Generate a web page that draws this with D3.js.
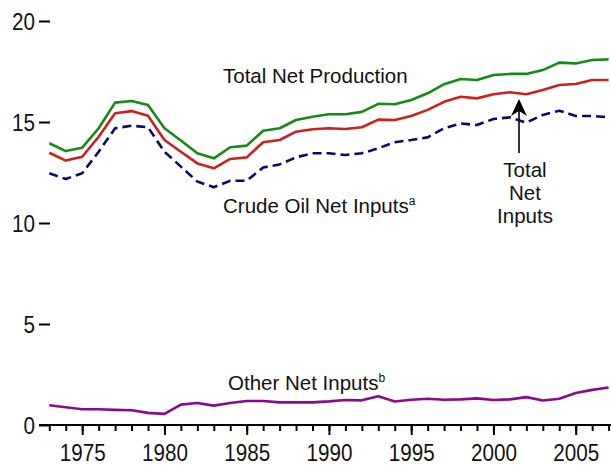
<!DOCTYPE html>
<html>
<head>
<meta charset="utf-8">
<script src="https://cdn.jsdelivr.net/npm/d3@7"></script>
<style>
  body { margin: 0; background: #fff; }
  svg { display: block; font-family: "Liberation Sans", Arial, sans-serif; }
</style>
</head>
<body>
<div class="chart"></div>
<script>
const WIDTH = 611;
const HEIGHT = 468;

var years = d3.range(1973, 2008);
var majorYears = [1975, 1980, 1985, 1990, 1995, 2000, 2005];
var yTicks = [0, 5, 10, 15, 20];

var totalNetProduction = [13.95, 13.56, 13.73, 14.69, 15.96, 16.04, 15.84, 14.69, 14.08, 13.45,
    13.20, 13.75, 13.83, 14.57, 14.69, 15.10, 15.26, 15.38, 15.38, 15.50,
    15.90, 15.88, 16.09, 16.42, 16.87, 17.13, 17.08, 17.33, 17.38, 17.38,
    17.57, 17.94, 17.90, 18.07, 18.10];
var totalNetInputs = [13.48, 13.09, 13.28, 14.27, 15.43, 15.54, 15.31, 14.11, 13.53, 12.95,
    12.71, 13.17, 13.25, 14.00, 14.11, 14.52, 14.64, 14.69, 14.65, 14.74,
    15.12, 15.10, 15.30, 15.60, 16.00, 16.25, 16.17, 16.37, 16.47, 16.37,
    16.58, 16.83, 16.88, 17.08, 17.08];
var crudeOilNetInputs = [12.46, 12.18, 12.46, 13.53, 14.69, 14.82, 14.74, 13.53, 12.79, 12.05,
    11.77, 12.09, 12.09, 12.75, 12.90, 13.25, 13.45, 13.45, 13.37, 13.45,
    13.70, 14.00, 14.11, 14.24, 14.69, 14.93, 14.85, 15.15, 15.23, 14.97,
    15.35, 15.56, 15.30, 15.30, 15.23];
var otherNetInputs = [0.98, 0.88, 0.78, 0.78, 0.75, 0.73, 0.60, 0.55, 1.01, 1.09,
    0.96, 1.09, 1.19, 1.19, 1.12, 1.12, 1.12, 1.17, 1.24, 1.22,
    1.42, 1.16, 1.25, 1.30, 1.25, 1.27, 1.32, 1.24, 1.27, 1.38,
    1.21, 1.30, 1.58, 1.74, 1.86];

var series = [
    { values: totalNetProduction, color: "#168a16", dash: null },
    { values: totalNetInputs, color: "#cc2020", dash: null },
    { values: crudeOilNetInputs, color: "#0a0a66", dash: "9,5" },
    { values: otherNetInputs, color: "#8a0a8a", dash: null }
];

var svg = d3.select('.chart').append('svg')
    .attr('width', WIDTH)
    .attr('height', HEIGHT);

var x = d3.scaleLinear().domain([1973, 2007]).range([49.3, 608.6]);
var y = d3.scaleLinear().domain([0, 20]).range([425, 21]);

// x axis: minor ticks every year, labelled major ticks every 5
var xMinor = svg.append("g")
    .attr("transform", "translate(0,425)")
    .call(d3.axisBottom(x).tickValues(years).tickSize(6).tickFormat(""));
xMinor.select(".domain").remove();
xMinor.selectAll("line").attr("stroke", "#000").attr("stroke-width", 2);

var xAxis = svg.append("g")
    .attr("transform", "translate(0,425)")
    .call(d3.axisBottom(x).tickValues(majorYears).tickSize(10).tickFormat(d3.format("d")));
xAxis.select(".domain").remove();
xAxis.selectAll("line").attr("stroke", "#000").attr("stroke-width", 2);
xAxis.selectAll("text")
    .attr("y", 36.5).attr("dy", 0)
    .attr("transform", "scale(0.86,1)")
    .style("font-size", "24px")
    .attr("fill", "#111");

svg.append("line")
    .attr("x1", 39).attr("x2", WIDTH)
    .attr("y1", 425).attr("y2", 425)
    .attr("stroke", "#000").attr("stroke-width", 2);

// y axis: just short dashes after the labels
var yAxis = svg.append("g")
    .attr("transform", "translate(50,0)")
    .call(d3.axisLeft(y).tickValues(yTicks).tickSize(11).tickFormat(d3.format("d")));
yAxis.select(".domain").remove();
yAxis.selectAll("line").attr("stroke", "#000").attr("stroke-width", 2);
yAxis.selectAll("text")
    .attr("x", 0).attr("dy", "0.36em")
    .attr("transform", "translate(-15,0) scale(0.86,1)")
    .style("font-size", "24px")
    .attr("fill", "#111");

var line = d3.line()
    .x(function (d, i) { return x(years[i]); })
    .y(function (d) { return y(d); });

svg.selectAll("path.series")
    .data(series)
    .enter()
    .append("path")
    .attr("class", "series")
    .attr("d", function (d) { return line(d.values); })
    .attr("fill", "none")
    .attr("stroke", function (d) { return d.color; })
    .attr("stroke-width", 2.6)
    .attr("stroke-linejoin", "round")
    .attr("stroke-dasharray", function (d) { return d.dash; });

// labels
var label = function (tx, ty, str, sup) {
    var t = svg.append("text")
        .attr("x", tx).attr("y", ty)
        .style("font-size", "20.5px")
        .attr("fill", "#111")
        .text(str);
    if (sup) {
        t.append("tspan")
            .attr("dy", -8)
            .style("font-size", "12px")
            .text(sup);
    }
};

label(223, 83, "Total Net Production");
label(223, 213, "Crude Oil Net Inputs", "a");
label(228, 390, "Other Net Inputs", "b");

svg.append("text")
    .attr("text-anchor", "middle")
    .style("font-size", "20.5px")
    .attr("fill", "#111")
    .selectAll("tspan")
    .data(["Total", "Net", "Inputs"])
    .enter()
    .append("tspan")
    .attr("x", 525)
    .attr("y", function (d, i) { return 177 + i * 23; })
    .text(function (d) { return d; });

// arrow pointing at Total Net Inputs
svg.append("line")
    .attr("x1", 519).attr("x2", 519)
    .attr("y1", 153).attr("y2", 110)
    .attr("stroke", "#000").attr("stroke-width", 1.6);
svg.append("path")
    .attr("d", "M519,99 L527,116 L519,111 L511,116 Z")
    .attr("fill", "#000");
</script>
</body>
</html>
